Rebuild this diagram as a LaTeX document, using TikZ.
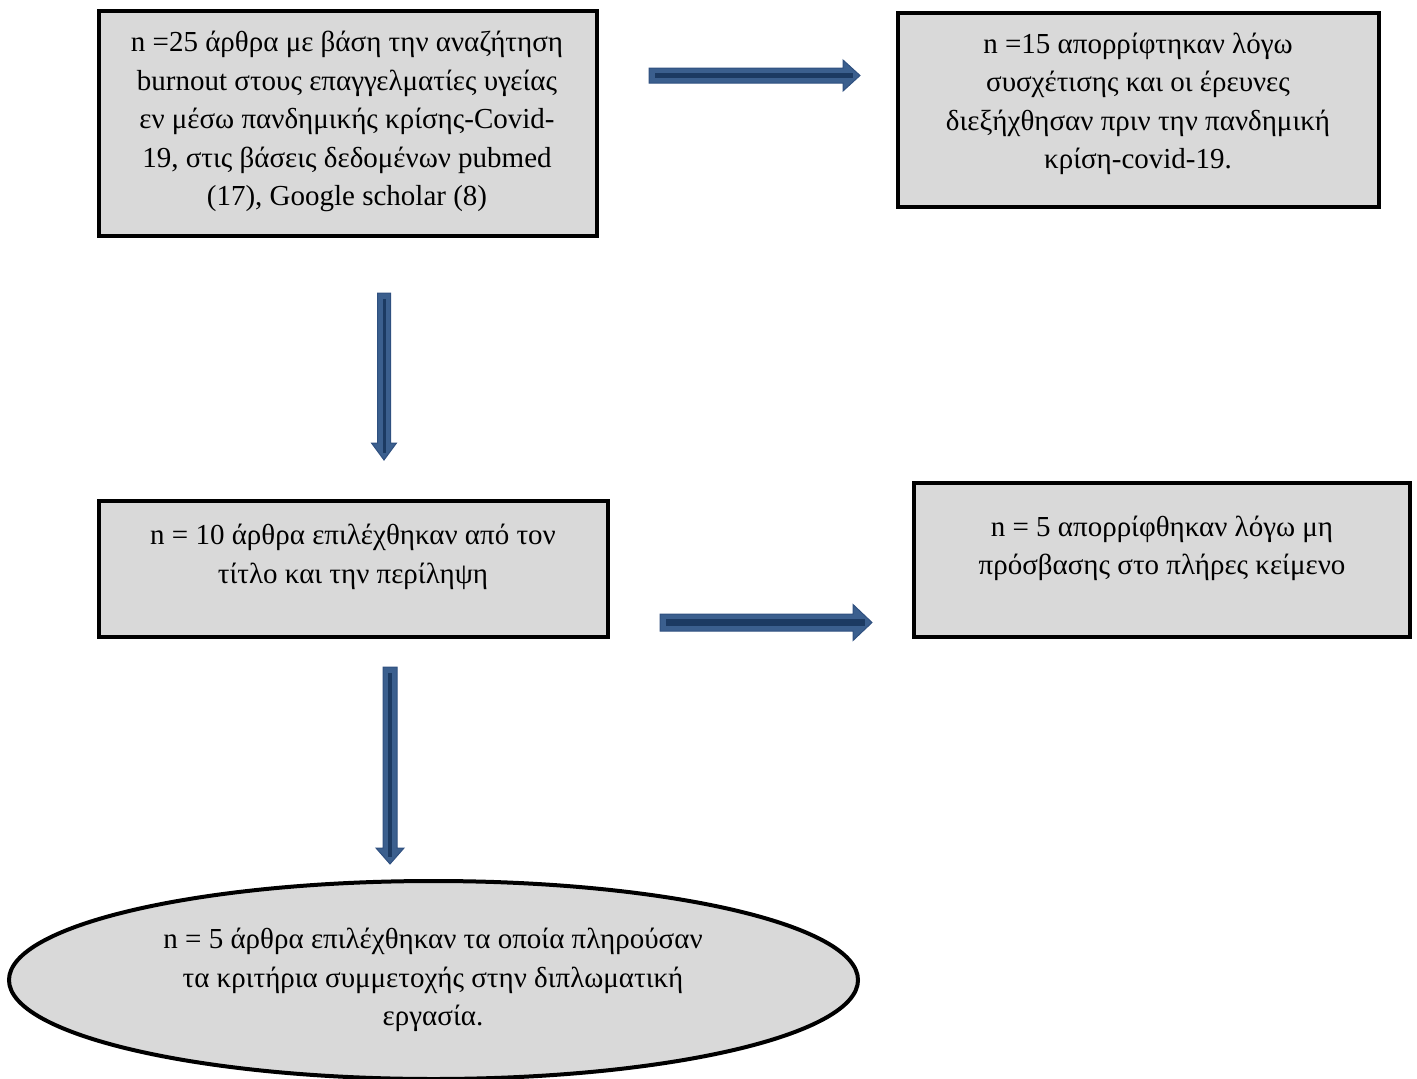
\documentclass[tikz,border=0pt]{standalone}
\usepackage{fontspec}
\usetikzlibrary{shapes.geometric}
\setmainfont{Liberation Serif}
\definecolor{boxgray}{HTML}{D9D9D9}
\definecolor{arrfill}{HTML}{3B5F8E}
\definecolor{arredge}{HTML}{2F5080}
\definecolor{arrcore}{HTML}{1C3A62}
\tikzset{
  box/.style={draw=black, fill=boxgray, line width=3.5pt},
  txt/.style={align=center, font=\fontsize{29}{38.5}\selectfont, inner sep=0pt},
  arrbody/.style={fill=arrfill, draw=arredge, line width=1pt, line join=miter},
  arrline/.style={draw=arrcore, line cap=butt},
}
% horizontal block arrow: tail x, tip x, y, shaft half, head half, head length, core width
\newcommand\myharrow[7]{%
  \filldraw[arrbody] (#1,#3-#4) -- (#2-#6,#3-#4) -- (#2-#6,#3-#5) -- (#2,#3) -- (#2-#6,#3+#5) -- (#2-#6,#3+#4) -- (#1,#3+#4) -- cycle;
  \draw[arrline, line width=#7] (#1+6,#3) -- (#2-7,#3);}
% vertical block arrow: x, tail y, tip y, shaft half, head half, head length, core width
\newcommand\myvarrow[7]{%
  \filldraw[arrbody] (#1-#4,#2) -- (#1-#4,#3-#6) -- (#1-#5,#3-#6) -- (#1,#3) -- (#1+#5,#3-#6) -- (#1+#4,#3-#6) -- (#1+#4,#2) -- cycle;
  \draw[arrline, line width=#7] (#1,#2+6) -- (#1,#3-7);}
\begin{document}
\begin{tikzpicture}[x=1pt,y=-1pt]
\useasboundingbox (0,0) rectangle (1417,1079);
\begin{scope}
\clip (0,0) rectangle (1417,1079);
% boxes
\node[box, minimum width=498pt, minimum height=225pt, inner sep=0pt] (b1) at (348,123.5) {};
\node[box, minimum width=481pt, minimum height=194pt, inner sep=0pt] (b2) at (1138.5,110) {};
\node[box, minimum width=509pt, minimum height=136pt, inner sep=0pt] (b3) at (353.5,569) {};
\node[box, minimum width=496pt, minimum height=154pt, inner sep=0pt] (b4) at (1162,560) {};
\node[box, ellipse, line width=4pt, minimum width=849pt, minimum height=198pt, inner sep=0pt] (e1) at (433.5,980) {};
\end{scope}
% texts
\node[txt] (t1) at (347,121.5) {n =25 άρθρα με βάση την αναζήτηση\\burnout στους επαγγελματίες υγείας\\εν μέσω πανδημικής κρίσης-Covid-\\19, στις βάσεις δεδομένων pubmed\\(17), Google scholar (8)};
\node[txt] (t2) at (1138,104) {n =15 απορρίφτηκαν λόγω\\συσχέτισης και οι έρευνες\\διεξήχθησαν πριν την πανδημική\\κρίση-covid-19.};
\node[txt] (t3) at (353,557) {n = 10 άρθρα επιλέχθηκαν από τον\\τίτλο και την περίληψη};
\node[txt] (t4) at (1162,548.5) {n = 5 απορρίφθηκαν λόγω μη\\πρόσβασης στο πλήρες κείμενο};
\node[txt] (t5) at (433,980) {n = 5 άρθρα επιλέχθηκαν τα οποία πληρούσαν\\τα κριτήρια συμμετοχής στην διπλωματική\\εργασία.};
% arrows
\myharrow{649}{860}{75.5}{7.5}{15.5}{17}{4.5pt}
\myvarrow{384}{293}{460}{6.5}{12.5}{17}{3pt}
\myharrow{660}{872}{622.5}{8.5}{18}{19}{7pt}
\myvarrow{390}{667}{864}{7}{14}{16}{3.5pt}
\end{tikzpicture}
\end{document}
